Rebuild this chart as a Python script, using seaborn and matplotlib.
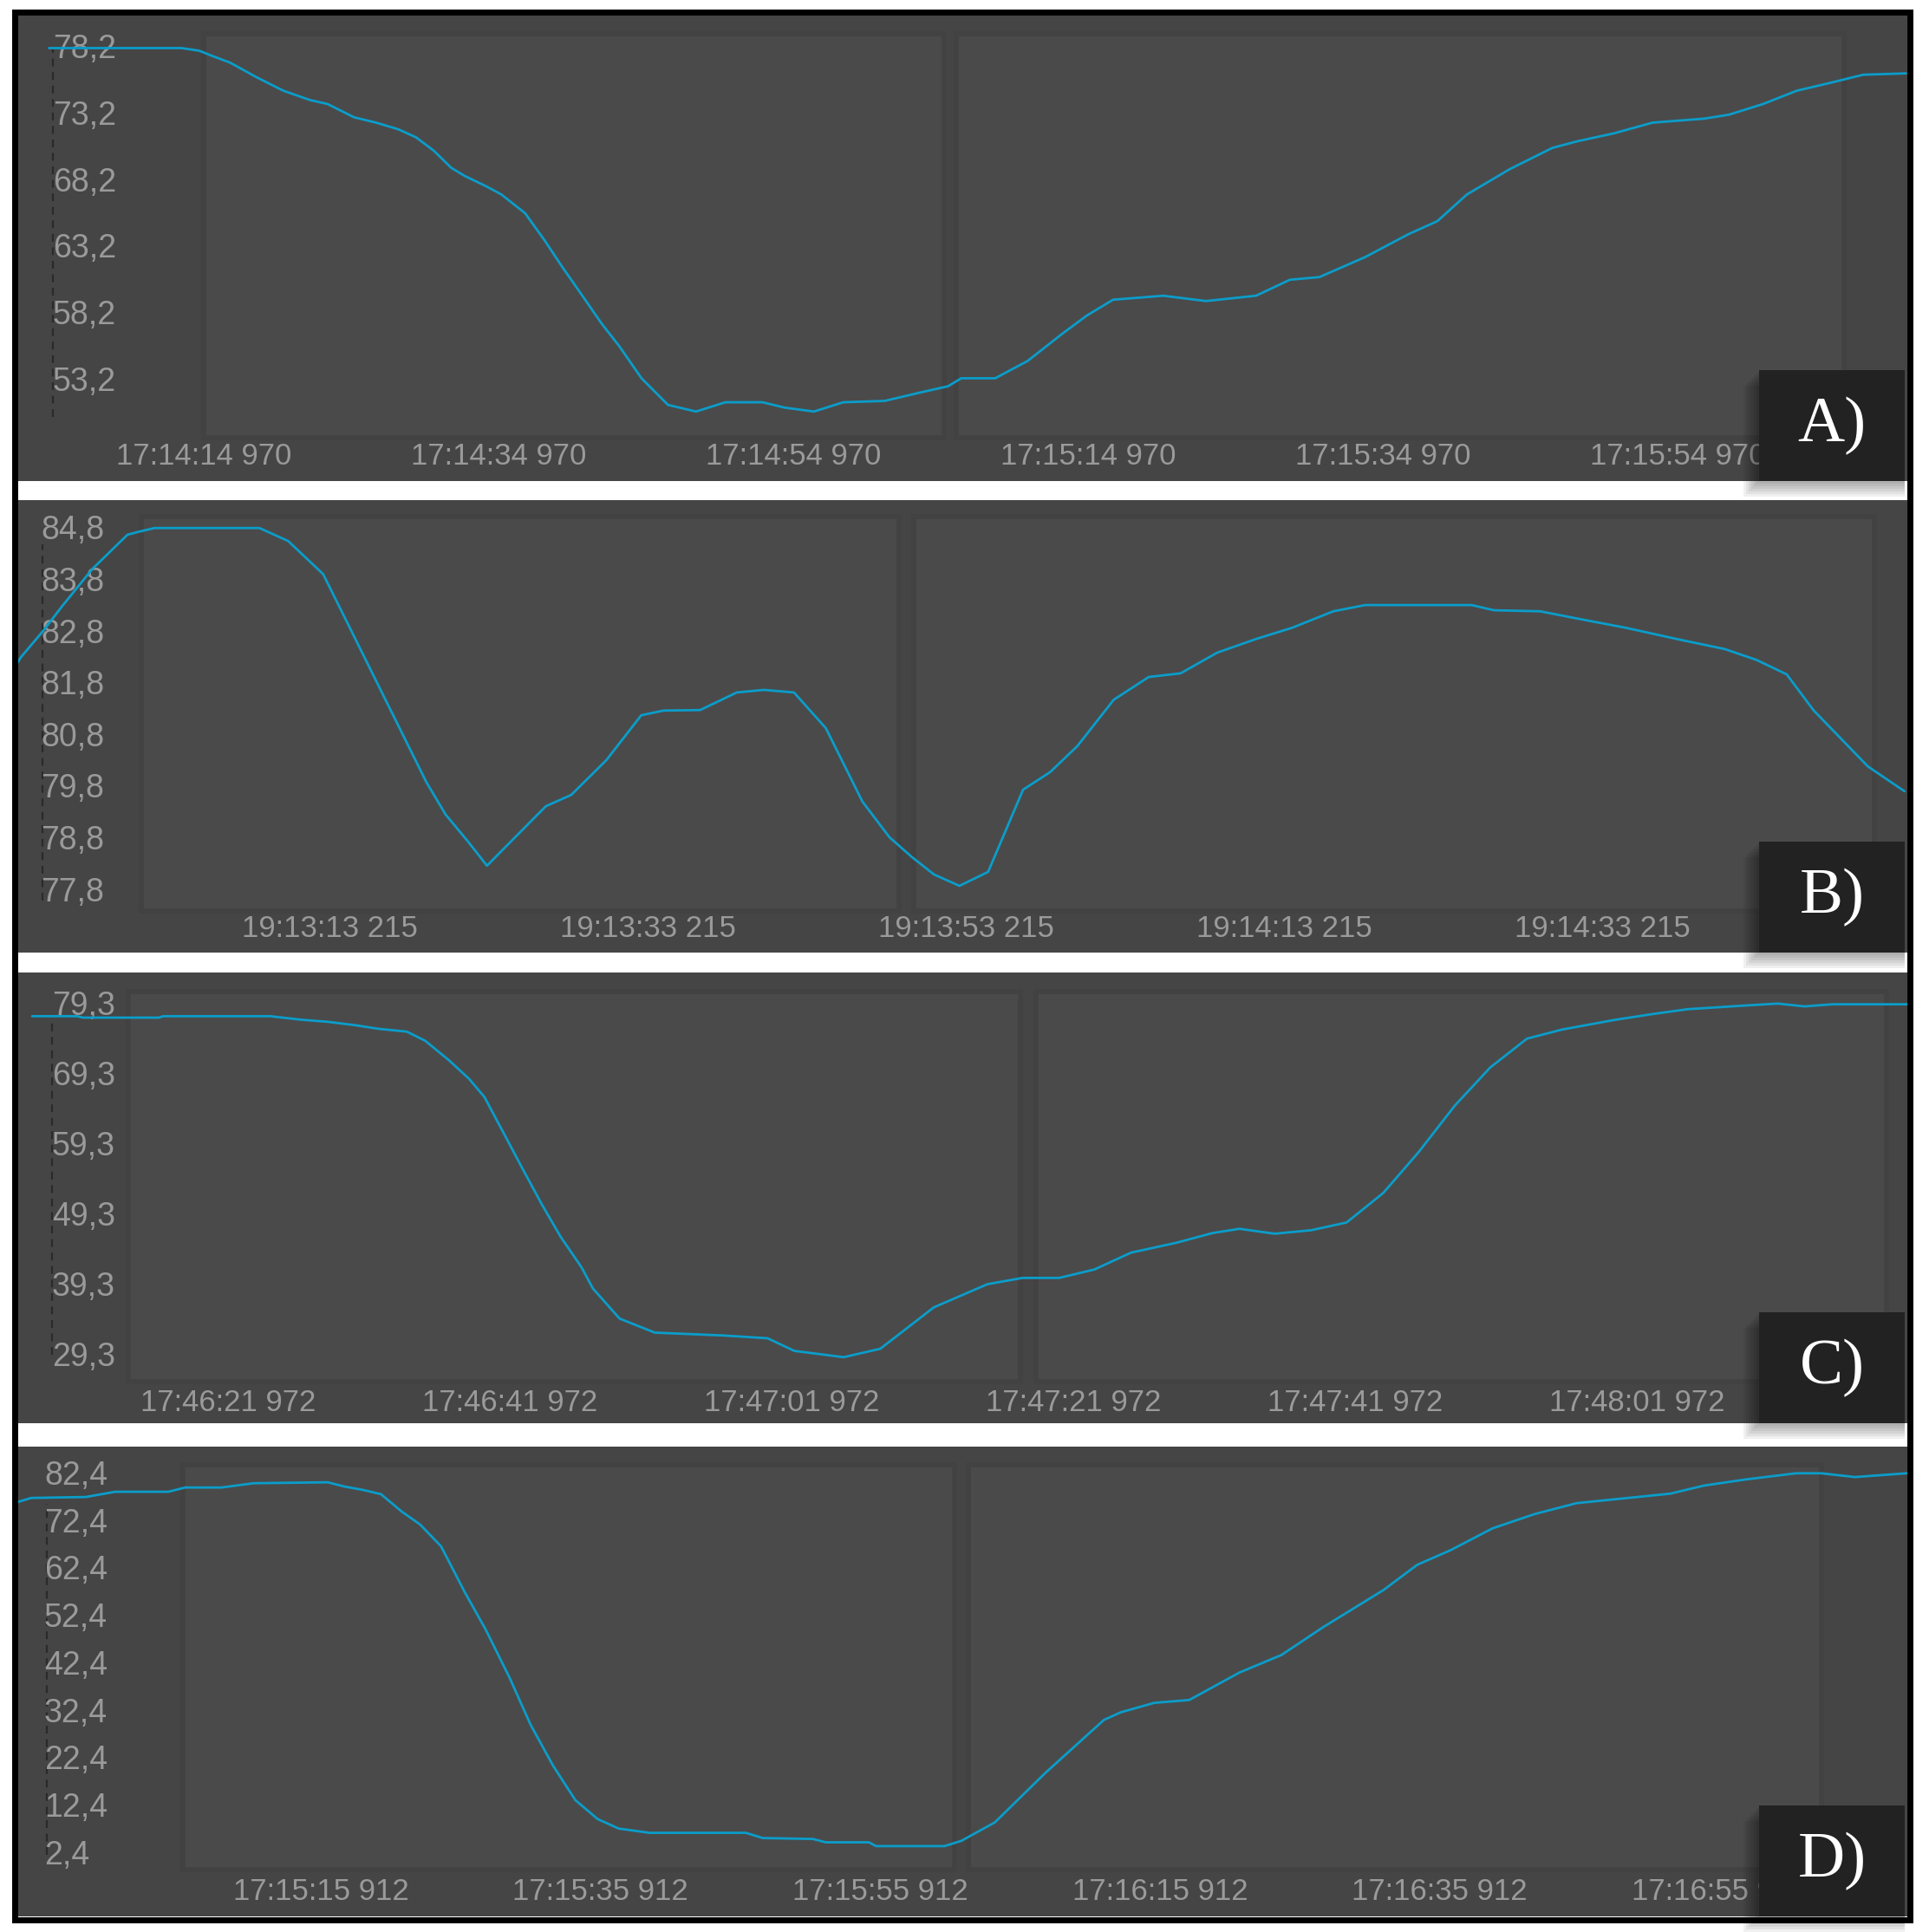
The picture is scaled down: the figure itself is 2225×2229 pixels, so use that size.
import seaborn as sns
import matplotlib.pyplot as plt
from matplotlib.patches import Rectangle

# ---- data (time in s after the first tick label) ----
a_time = [-10.5, -5.7, -1.5, -0.3, 0.6, 1.8, 3.6, 5.4, 7.2, 8.4,
          10.2, 11.7, 13.2, 14.4, 15.6, 16.8, 17.7, 19.2, 20.2, 21.8,
          23.1, 24.3, 25.5, 27.0, 28.2, 29.7, 31.5, 33.4, 35.4, 37.9,
          39.4, 41.4, 43.4, 46.2, 48.5, 50.5, 51.4, 53.7, 55.9, 58.2,
          59.9, 61.7, 65.1, 68.0, 71.4, 73.7, 75.7, 78.8, 81.7, 83.7,
          85.7, 88.6, 91.5, 93.2, 95.7, 98.3, 101.8, 103.5, 105.8, 108.1,
          110.4, 112.6, 115.5]
a_value = [78.3, 78.3, 78.3, 78.1, 77.7, 77.2, 76.1, 75.1, 74.4, 74.1,
           73.1, 72.7, 72.2, 71.6, 70.6, 69.3, 68.7, 67.9, 67.3, 65.9,
           63.9, 61.9, 60.0, 57.6, 55.9, 53.5, 51.5, 51.0, 51.7, 51.7,
           51.3, 51.0, 51.7, 51.8, 52.4, 52.9, 53.5, 53.5, 54.8, 56.8,
           58.2, 59.4, 59.7, 59.3, 59.7, 60.9, 61.1, 62.6, 64.3, 65.3,
           67.3, 69.2, 70.8, 71.3, 71.9, 72.7, 73.0, 73.3, 74.1, 75.1,
           75.7, 76.3, 76.4]
a_xlabels = ["17:14:14 970", "17:14:34 970", "17:14:54 970",
             "17:15:14 970", "17:15:34 970", "17:15:54 970"]
a_yticks = [78.2, 73.2, 68.2, 63.2, 58.2, 53.2]
a_ylabels = ["78,2", "73,2", "68,2", "63,2", "58,2", "53,2"]

b_time = [-19.6, -19.4, -18.0, -16.8, -14.9, -12.7, -12.1, -11.0, -4.4, -2.6,
          -0.4, 1.2, 3.6, 6.1, 7.3, 8.7, 9.9, 13.6, 15.2, 17.4,
          19.6, 21.0, 23.3, 25.6, 27.3, 29.2, 31.2, 33.5, 35.2, 36.6,
          38.0, 39.6, 41.4, 43.6, 45.3, 47.0, 49.3, 51.5, 53.5, 55.8,
          58.3, 60.5, 63.1, 65.1, 71.8, 73.2, 76.1, 78.6, 81.5, 84.9,
          87.7, 89.7, 91.6, 93.3, 96.7, 99.0]
b_value = [82.25, 82.35, 82.86, 83.34, 84.06, 84.72, 84.77, 84.85, 84.85, 84.60,
           83.96, 82.97, 81.48, 79.93, 79.31, 78.79, 78.32, 79.47, 79.69, 80.36,
           81.23, 81.32, 81.33, 81.67, 81.72, 81.67, 80.98, 79.56, 78.87, 78.49,
           78.15, 77.93, 78.20, 79.79, 80.13, 80.63, 81.53, 81.97, 82.04, 82.44,
           82.71, 82.92, 83.24, 83.36, 83.36, 83.26, 83.24, 83.09, 82.92, 82.69,
           82.51, 82.30, 82.02, 81.32, 80.24, 79.76]
b_xlabels = ["19:13:13 215", "19:13:33 215", "19:13:53 215",
             "19:14:13 215", "19:14:33 215"]
b_yticks = [84.8, 83.8, 82.8, 81.8, 80.8, 79.8, 78.8, 77.8]
b_ylabels = ["84,8", "83,8", "82,8", "81,8", "80,8", "79,8", "78,8", "77,8"]

c_time = [-13.9, -10.7, -10.3, -4.9, -4.6, 3.0, 5.2, 7.1, 9.1, 10.7,
          12.7, 14.0, 15.7, 17.1, 18.2, 19.5, 20.9, 22.3, 23.6, 25.1,
          25.9, 27.8, 30.3, 35.1, 38.3, 40.2, 43.7, 46.3, 50.1, 53.9,
          56.4, 59.0, 61.5, 64.1, 67.3, 69.9, 71.8, 74.3, 76.9, 79.4,
          82.0, 84.5, 87.1, 89.6, 92.2, 94.7, 98.5, 101.1, 103.6, 107.5,
          110.0, 111.9, 113.9, 119.2]
c_value = [77.9, 77.9, 77.7, 77.7, 77.9, 77.9, 77.4, 77.1, 76.6, 76.1,
           75.7, 74.4, 71.6, 69.0, 66.4, 61.5, 56.2, 51.0, 46.5, 42.1,
           39.1, 34.8, 32.8, 32.4, 32.0, 30.2, 29.3, 30.5, 36.4, 39.7,
           40.6, 40.6, 41.8, 44.2, 45.6, 47.0, 47.6, 46.9, 47.4, 48.5,
           52.7, 58.5, 65.2, 70.6, 74.7, 76.0, 77.4, 78.2, 78.9, 79.4,
           79.7, 79.3, 79.6, 79.6]
c_xlabels = ["17:46:21 972", "17:46:41 972", "17:47:01 972",
             "17:47:21 972", "17:47:41 972", "17:48:01 972"]
c_yticks = [79.3, 69.3, 59.3, 49.3, 39.3, 29.3]
c_ylabels = ["79,3", "69,3", "59,3", "49,3", "39,3", "29,3"]

d_time = [-21.7, -21.5, -20.7, -16.8, -14.7, -10.9, -9.7, -7.1, -4.8, 0.5,
          1.7, 3.0, 4.3, 5.8, 7.1, 8.6, 10.3, 11.8, 13.5, 15.0,
          16.6, 18.2, 19.8, 21.3, 23.5, 30.4, 31.6, 35.2, 36.1, 39.2,
          39.7, 44.6, 45.8, 48.2, 51.8, 56.0, 57.2, 59.6, 62.1, 65.7,
          68.7, 71.7, 76.0, 78.4, 80.8, 83.8, 86.8, 89.8, 92.8, 96.5,
          98.9, 101.9, 105.5, 107.3, 109.7, 113.4]
d_value = [76.9, 77.1, 77.8, 78.0, 79.1, 79.1, 80.0, 80.0, 80.9, 81.1,
           80.2, 79.5, 78.6, 74.9, 72.2, 67.6, 57.9, 50.0, 39.9, 30.0,
           21.4, 14.1, 10.1, 8.1, 7.2, 7.2, 6.1, 5.9, 5.2, 5.2,
           4.4, 4.4, 5.5, 9.4, 19.8, 31.0, 32.6, 34.6, 35.2, 41.0,
           44.7, 50.6, 58.4, 63.7, 66.8, 71.4, 74.4, 76.7, 77.6, 78.7,
           80.4, 81.7, 83.0, 83.0, 82.2, 83.0]
d_xlabels = ["17:15:15 912", "17:15:35 912", "17:15:55 912",
             "17:16:15 912", "17:16:35 912", "17:16:55 912"]
d_yticks = [82.4, 72.4, 62.4, 52.4, 42.4, 32.4, 22.4, 12.4, 2.4]
d_ylabels = ["82,4", "72,4", "62,4", "52,4", "42,4", "32,4", "22,4", "12,4", "2,4"]

xtick_step = [0, 20, 40, 60, 80, 100]

# ---- layout (pixels of the 2225x2229 screenshot) ----
W, H = 2225, 2229
X0, X1 = 20, 2200

panels = [
    dict(time=a_time, value=a_value, xlabels=a_xlabels, yticks=a_yticks, ylabels=a_ylabels,
         tag="A)", top=18, bottom=555, xlim=(-12.65, 115.59), ylim=(45.78, 80.74),
         rects=[(235, 1089), (1103, 2127)], rect_y=(39, 505),
         ylab_x=41, xlab_y=29, dash_x=-10.24, dash_y=(57, 481)),
    dict(time=b_time, value=b_value, xlabels=b_xlabels, yticks=b_yticks, ylabels=b_ylabels,
         tag="B)", top=577, bottom=1099, xlim=(-19.62, 99.18), ylim=(76.64, 85.39),
         rects=[(163, 1037), (1054, 2162)], rect_y=(596, 1051),
         ylab_x=27, xlab_y=27, dash_x=-18.04, dash_y=(628, 1039)),
    dict(time=c_time, value=c_value, xlabels=c_xlabels, yticks=c_yticks, ylabels=c_ylabels,
         tag="C)", top=1122, bottom=1642, xlim=(-14.95, 119.2), ylim=(19.89, 84.13),
         rects=[(148, 1177), (1195, 2176)], rect_y=(1144, 1594),
         ylab_x=40, xlab_y=24, dash_x=-12.49, dash_y=(1174, 1563)),
    dict(time=d_time, value=d_value, xlabels=d_xlabels, yticks=d_yticks, ylabels=d_ylabels,
         tag="D)", top=1669, bottom=2211, xlim=(-21.70, 113.45), ylim=(-10.42, 88.62),
         rects=[(211, 1101), (1117, 2101)], rect_y=(1690, 2157),
         ylab_x=31, xlab_y=29, dash_x=-19.59, dash_y=(1735, 2140)),
]

PANEL_BG = "#454545"
INNER_BG = "#4a4a4a"
INNER_EDGE = "#424242"
LINE_COLOR = "#0b9dca"
TICK_COLOR = "#9a9a9a"

sns.set_style("dark")
plt.rcParams["font.family"] = ["Liberation Sans", "DejaVu Sans"]

fig = plt.figure(figsize=(W / 100, H / 100), dpi=100, facecolor="white")

for p in panels:
    top, bot = p["top"], p["bottom"]
    ax = fig.add_axes([X0 / W, 1 - bot / H, (X1 - X0) / W, (bot - top) / H])
    ax.set_facecolor(PANEL_BG)
    for s in ax.spines.values():
        s.set_visible(False)

    def fx(x):
        return (x - X0) / (X1 - X0)

    def fy(y):
        return (bot - y) / (bot - top)

    # the two lighter plot frames of the original software
    for (rx0, rx1) in p["rects"]:
        ry0, ry1 = p["rect_y"]
        ax.add_patch(Rectangle((fx(rx0), fy(ry1)), fx(rx1) - fx(rx0), fy(ry0) - fy(ry1),
                               transform=ax.transAxes, facecolor=INNER_BG,
                               edgecolor=INNER_EDGE, lw=4, zorder=0.5))

    ax.axvline(p["dash_x"], fy(p["dash_y"][1]), fy(p["dash_y"][0]),
               color="#2a2a2a", lw=1.6, ls=(0, (4, 3)), zorder=1)

    sns.lineplot(x=p["time"], y=p["value"], ax=ax, color=LINE_COLOR,
                 linewidth=2.0, zorder=3)

    ax.set_xlim(*p["xlim"])
    ax.set_ylim(*p["ylim"])
    ax.set_xlabel("")
    ax.set_ylabel("")
    ax.set_axisbelow(False)

    ax.set_xticks(xtick_step[:len(p["xlabels"])], p["xlabels"], va="center")
    ax.set_yticks(p["yticks"], p["ylabels"], ha="left", va="center")
    ax.tick_params(axis="x", length=0, pad=-p["xlab_y"] * 0.72,
                   labelsize=25, labelcolor=TICK_COLOR)
    ax.tick_params(axis="y", length=0, pad=-p["ylab_x"] * 0.72,
                   labelsize=27, labelcolor=TICK_COLOR)

    # tag box with soft shadow
    bx0, bx1 = fx(2029), fx(2197)
    by0, by1 = 0.0, fy(bot - 128)
    for i in range(6):
        off = (i + 1) * 3
        ax.add_patch(Rectangle((bx0 - off / (X1 - X0), by0 - off / (bot - top)),
                               bx1 - bx0 + off / (X1 - X0), by1 - by0,
                               transform=ax.transAxes, facecolor="black",
                               alpha=0.06, lw=0, zorder=9, clip_on=False))
    ax.add_patch(Rectangle((bx0, by0), bx1 - bx0, by1 - by0, transform=ax.transAxes,
                           facecolor="#222222", lw=0, zorder=10, clip_on=False))
    ax.text((bx0 + bx1) / 2, (by0 + by1) / 2, p["tag"], transform=ax.transAxes,
            ha="center", va="center", color="white", fontsize=54,
            family=["Liberation Serif", "DejaVu Serif"], zorder=11)

# black frame round the whole screenshot
fig.add_artist(Rectangle((16.5 / W, 1 - 2214.5 / H), 2186 / W, 2200.5 / H,
                         transform=fig.transFigure, fill=False,
                         edgecolor="black", lw=5.0, zorder=5))

fig.savefig("out.png", dpi=100, facecolor="white")
